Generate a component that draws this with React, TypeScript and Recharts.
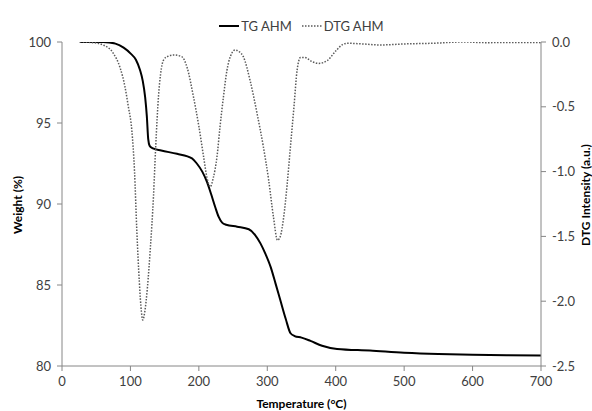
import { LineChart, Line, XAxis, YAxis, Legend } from 'recharts';

// TG curve: temperature (°C) and weight (%)
const tgTemp = [26, 60, 78, 90, 100, 108, 114, 118, 121.5, 124, 126, 128, 132, 145, 168, 190, 197, 205, 212, 218, 224, 229, 234, 240, 256, 273, 282, 290, 297, 305, 312, 319, 327, 334, 340, 350, 363, 380, 402, 450, 500, 550, 600, 650, 700];
const tgWeight = [100, 100, 99.9, 99.65, 99.3, 98.9, 98.27, 97.6, 96.6, 95.4, 94.0, 93.6, 93.45, 93.3, 93.1, 92.82, 92.5, 92.0, 91.35, 90.6, 89.8, 89.2, 88.85, 88.72, 88.6, 88.44, 88.1, 87.57, 86.95, 86.1, 85.1, 84.07, 82.9, 82.02, 81.85, 81.75, 81.55, 81.25, 81.05, 80.95, 80.82, 80.74, 80.7, 80.67, 80.65];

// DTG curve: temperature (°C) and intensity (a.u.)
const dtgTemp = [26, 45, 60, 75, 85, 92, 97, 102, 106, 109.3, 113, 116, 118, 121, 124.9, 129, 133.7, 137, 141, 144, 148.4, 155, 163, 175, 183, 192, 200, 206.9, 212, 216.7, 221, 226.5, 231, 236, 241, 246, 253, 259, 265, 275, 285, 294, 302, 309, 315, 319, 324, 329, 333.8, 339, 343.6, 348.5, 355, 365, 375, 387.5, 400, 410, 417, 440, 465, 500, 540, 587, 620, 660, 700];
const dtgValue = [0, -0.005, -0.023, -0.087, -0.2, -0.345, -0.5, -0.68, -1.0, -1.45, -1.85, -2.08, -2.145, -2.08, -1.89, -1.6, -1.19, -0.8, -0.42, -0.25, -0.139, -0.11, -0.1, -0.113, -0.2, -0.42, -0.65, -0.885, -1.05, -1.117, -1.05, -0.885, -0.65, -0.42, -0.22, -0.113, -0.062, -0.075, -0.113, -0.3, -0.55, -0.8, -1.065, -1.35, -1.53, -1.5, -1.35, -1.1, -0.81, -0.5, -0.216, -0.12, -0.12, -0.15, -0.165, -0.144, -0.07, -0.02, -0.01, -0.015, -0.023, -0.015, -0.01, 0, -0.005, -0.003, -0.005];

const xTicks = [0, 100, 200, 300, 400, 500, 600, 700];
const weightTicks = [80, 85, 90, 95, 100];
const dtgTicks = [-2.5, -2, -1.5, -1, -0.5, 0];

const tgData = tgTemp.map((t, i) => ({ t, weight: tgWeight[i] }));
const dtgData = dtgTemp.map((t, i) => ({ t, dtg: dtgValue[i] }));

const FONT = 'Lato, "Open Sans", sans-serif';
const AXIS = '#868686';
const tickStyle = { fill: '#404040', fontSize: 13, fontFamily: FONT };
const titleStyle = { fill: '#000', fontWeight: 700, fontSize: 12, fontFamily: FONT };

function LegendBox() {
  return (
    <div style={{ display: 'flex', justifyContent: 'center', gap: 10, fontFamily: FONT, fontSize: 13, color: '#404040', paddingTop: 9, height: 42, boxSizing: 'border-box', lineHeight: '16px' }}>
      <span style={{ display: 'flex', alignItems: 'center' }}>
        <svg width={20} height={6} style={{ marginRight: 2 }}>
          <line x1={0} y1={3} x2={20} y2={3} stroke="#000" strokeWidth={2} />
        </svg>
        TG AHM
      </span>
      <span style={{ display: 'flex', alignItems: 'center' }}>
        <svg width={20} height={6} style={{ marginRight: 2 }}>
          <line x1={0} y1={3} x2={20} y2={3} stroke="#595959" strokeWidth={1.5} strokeDasharray="1.5 1.5" />
        </svg>
        DTG AHM
      </span>
    </div>
  );
}

// rotated axis title drawn beside an axis box
function sideTitle(text: string, side: 'left' | 'right') {
  return (props: any) => {
    const vb = props.viewBox || {};
    const x = side === 'left' ? vb.x - 5 : vb.x + vb.width + 4;
    const y = vb.y + vb.height / 2 + (side === 'left' ? 1 : -9);
    return (
      <text x={x} y={y} transform={`rotate(-90, ${x}, ${y})`} textAnchor="middle" dominantBaseline="central" style={titleStyle}>
        {text}
      </text>
    );
  };
}

export default function App() {
  return (
    <div style={{ position: 'absolute', left: 0, top: 0, width: 592, height: 411, background: '#fff' }}>
      <LineChart width={592} height={411} margin={{ top: 0, right: 11, bottom: 15, left: 22 }}>
        <Legend verticalAlign="top" height={42} content={() => <LegendBox />} />
        <XAxis
          type="number"
          dataKey="t"
          domain={[0, 700]}
          ticks={xTicks}
          allowDataOverflow
          stroke={AXIS}
          tick={tickStyle}
          tickSize={5}
          tickMargin={6}
          height={30}
          label={{ value: 'Temperature (°C)', position: 'insideBottom', offset: -12, style: titleStyle }}
        />
        <YAxis
          yAxisId="left"
          orientation="left"
          domain={[80, 100]}
          ticks={weightTicks}
          allowDataOverflow
          width={40}
          stroke={AXIS}
          tick={tickStyle}
          tickSize={5}
          tickMargin={6}
          label={{ content: sideTitle('Weight (%)', 'left') }}
        />
        <YAxis
          yAxisId="right"
          orientation="right"
          domain={[-2.5, 0]}
          ticks={dtgTicks}
          allowDataOverflow
          width={40}
          stroke={AXIS}
          tick={tickStyle}
          tickSize={5}
          tickMargin={6}
          tickFormatter={(v: number) => v.toFixed(1)}
          label={{ content: sideTitle('DTG Intensity (a.u.)', 'right') }}
        />
        <Line
          yAxisId="left"
          data={tgData}
          dataKey="weight"
          type="monotone"
          stroke="#000"
          strokeWidth={2}
          dot={false}
          isAnimationActive={false}
          name="TG AHM"
        />
        <Line
          yAxisId="right"
          data={dtgData}
          dataKey="dtg"
          type="monotone"
          stroke="#595959"
          strokeWidth={1.5}
          strokeDasharray="1.5 1.5"
          dot={false}
          isAnimationActive={false}
          name="DTG AHM"
        />
      </LineChart>
    </div>
  );
}
